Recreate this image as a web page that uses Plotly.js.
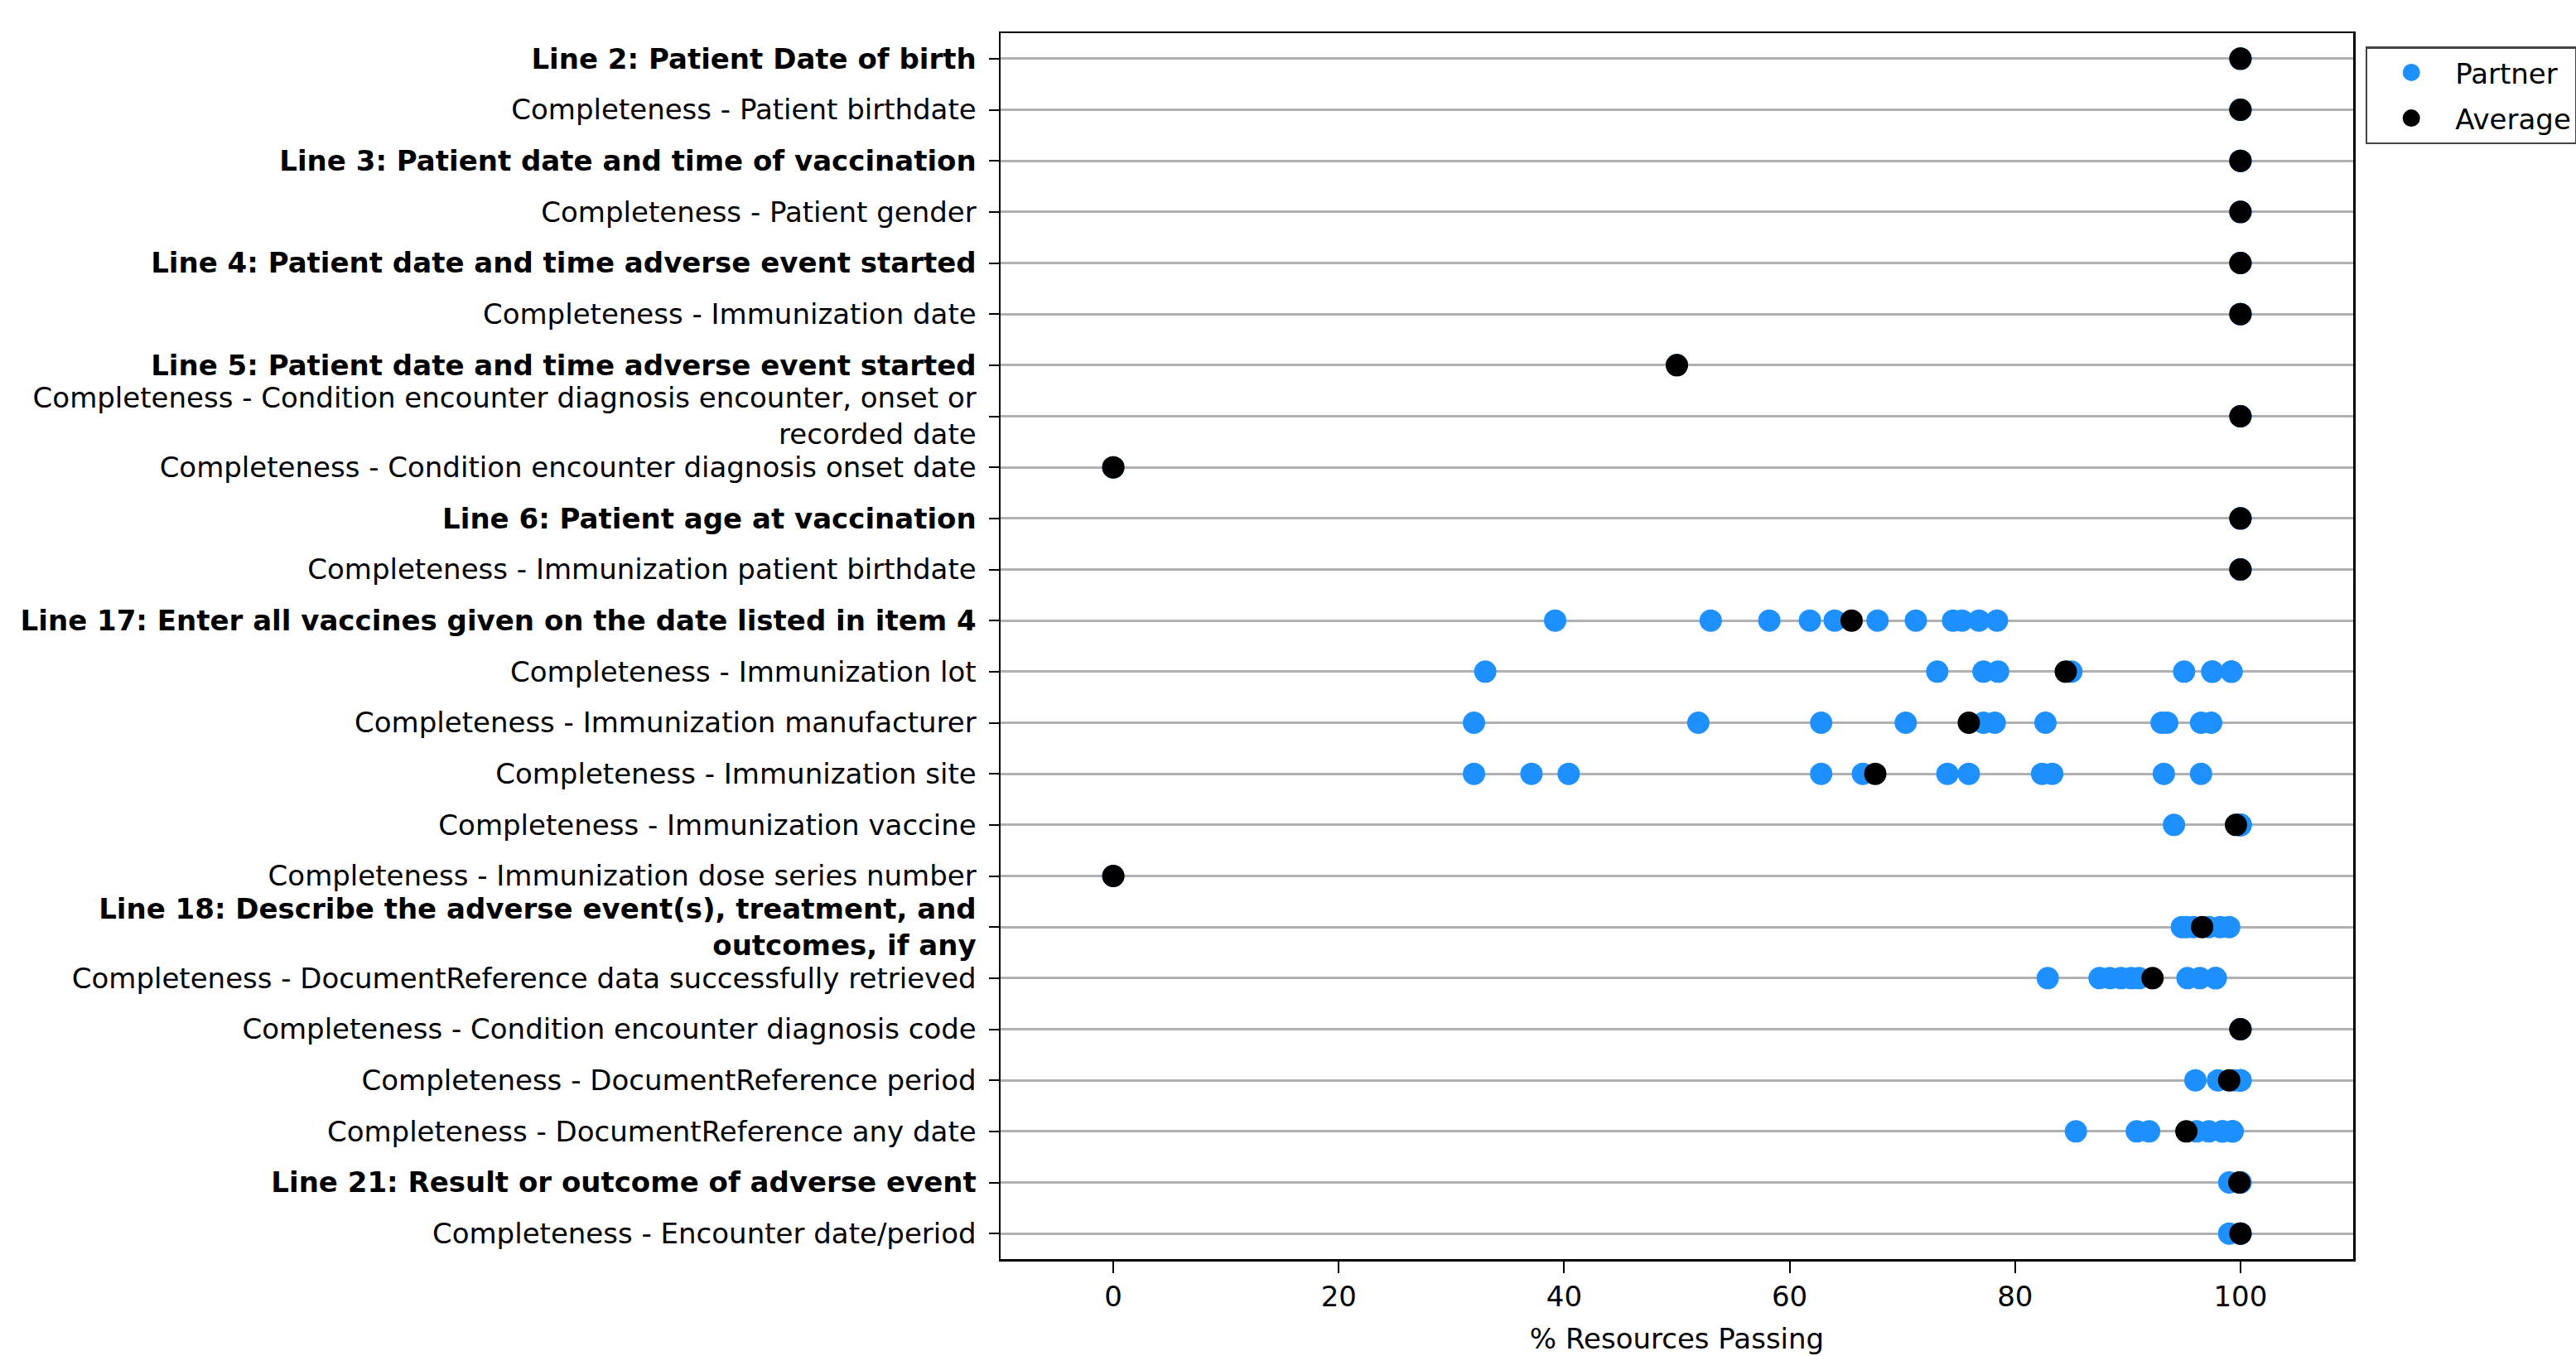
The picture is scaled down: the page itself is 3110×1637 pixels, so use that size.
<!DOCTYPE html>
<html>
<head>
<meta charset="utf-8">
<script src="https://cdn.plot.ly/plotly-3.0.1.min.js"></script>
<style>html,body{margin:0;padding:0;background:#fff;}#chart{width:3110px;height:1637px;}</style>
</head>
<body>
<div id="chart"></div>
<script>
// Category labels (top to bottom)
const categories = [
  "Line 2: Patient Date of birth",
  "Completeness - Patient birthdate",
  "Line 3: Patient date and time of vaccination",
  "Completeness - Patient gender",
  "Line 4: Patient date and time adverse event started",
  "Completeness - Immunization date",
  "Line 5: Patient date and time adverse event started",
  "Completeness - Condition encounter diagnosis encounter, onset or<br>recorded date",
  "Completeness - Condition encounter diagnosis onset date",
  "Line 6: Patient age at vaccination",
  "Completeness - Immunization patient birthdate",
  "Line 17: Enter all vaccines given on the date listed in item 4",
  "Completeness - Immunization lot",
  "Completeness - Immunization manufacturer",
  "Completeness - Immunization site",
  "Completeness - Immunization vaccine",
  "Completeness - Immunization dose series number",
  "Line 18: Describe the adverse event(s), treatment, and<br>outcomes, if any",
  "Completeness - DocumentReference data successfully retrieved",
  "Completeness - Condition encounter diagnosis code",
  "Completeness - DocumentReference period",
  "Completeness - DocumentReference any date",
  "Line 21: Result or outcome of adverse event",
  "Completeness - Encounter date/period"
];
// Which labels are section headers (drawn bold)
const headerRows = [0, 2, 4, 6, 9, 11, 17, 22];

// Partner values per category (% resources passing)
const partnerValues = [
  [100, 100, 100],
  [100, 100, 100],
  [100, 100, 100],
  [100, 100, 100],
  [100, 100, 100],
  [100, 100, 100],
  [50],
  [100, 100, 100],
  [0],
  [100, 100, 100],
  [100, 100, 100],
  [39.2, 53.0, 58.2, 61.8, 64.0, 67.8, 71.2, 74.5, 75.3, 76.8, 78.4],
  [33.0, 73.1, 77.2, 78.5, 85.0, 95.0, 97.5, 97.5, 99.2, 99.2],
  [32.0, 51.9, 62.8, 70.3, 77.2, 78.2, 82.7, 93.0, 93.5, 96.5, 97.4],
  [32.0, 37.1, 40.4, 62.8, 66.5, 74.0, 75.9, 82.4, 83.3, 93.2, 96.5],
  [94.1, 100, 100, 100, 100, 100, 100, 100, 100, 100],
  [0],
  [94.8, 95.2, 95.8, 97.2, 98.2, 99.0],
  [82.9, 87.5, 88.4, 89.4, 90.3, 91.0, 95.3, 96.4, 97.8, 97.8],
  [100, 100, 100],
  [96.0, 98.0, 99.5, 100, 100, 100],
  [85.4, 90.8, 91.9, 96.1, 97.2, 98.4, 98.4, 99.3, 99.3],
  [99.0, 100, 100, 100],
  [99.0, 100, 100, 100]
];
// Average value per category
const averageValues = [
  100, 100, 100, 100, 100, 100, 50, 100, 0, 100, 100,
  65.5, 84.5, 75.9, 67.6, 99.6, 0, 96.6, 92.2, 100, 99.0, 95.2, 99.9, 100
];
const xTickVals = [0, 20, 40, 60, 80, 100];
const xTitle = "% Resources Passing";

const labels = categories.map((c, i) => headerRows.includes(i) ? "<b>" + c.split("<br>").join("</b><br><b>") + "</b>" : c);

const px = [], py = [];
partnerValues.forEach((vals, i) => vals.forEach(v => { px.push(v); py.push(labels[i]); }));

const FONT = "DejaVu Sans, sans-serif";
const FS = 34;

const traces = [
  {type: "scatter", mode: "markers", name: "Partner", legendgroup: "p", x: px, y: py,
   marker: {color: "#1e90ff", size: 22, line: {width: 5, color: "#1e90ff"}}, cliponaxis: false},
  {type: "scatter", mode: "markers", name: "Average", legendgroup: "a", x: averageValues, y: labels,
   marker: {color: "#000000", size: 22, line: {width: 5, color: "#000000"}}, cliponaxis: false}
];

const layout = {
  width: 3110, height: 1637,
  margin: {l: 1208, r: 269, t: 40, b: 117, pad: 0, autoexpand: false},
  paper_bgcolor: "#ffffff", plot_bgcolor: "#ffffff",
  font: {family: FONT, size: FS, color: "#000"},
  showlegend: true,
  legend: {x: 1.009, xanchor: "left", y: 0.989, yanchor: "top",
           bordercolor: "#444", borderwidth: 2.5, bgcolor: "#fff",
           font: {family: FONT, size: FS, color: "#000"}, itemsizing: "trace",
           itemwidth: 96, tracegroupgap: 8},
  xaxis: {range: [-10, 110], tickvals: xTickVals, ticks: "outside", ticklen: 14, tickwidth: 2,
          tickcolor: "#000", showgrid: false, zeroline: false,
          showline: true, linecolor: "#000", linewidth: 2.5, mirror: true,
          tickfont: {family: FONT, size: FS, color: "#000"},
          title: {text: xTitle, font: {family: FONT, size: FS, color: "#000"}, standoff: 20}},
  yaxis: {type: "category", categoryorder: "array", categoryarray: labels,
          range: [23.5, -0.5], ticks: "outside", ticklen: 12, tickwidth: 2, tickcolor: "#000",
          showgrid: true, gridcolor: "#b0b0b0", gridwidth: 3, zeroline: false,
          showline: true, linecolor: "#000", linewidth: 2.5, mirror: true,
          ticklabelstandoff: 8,
          tickfont: {family: FONT, size: FS, color: "#000"}}
};

Plotly.newPlot("chart", traces, layout, {displayModeBar: false, staticPlot: true});
</script>
</body>
</html>
